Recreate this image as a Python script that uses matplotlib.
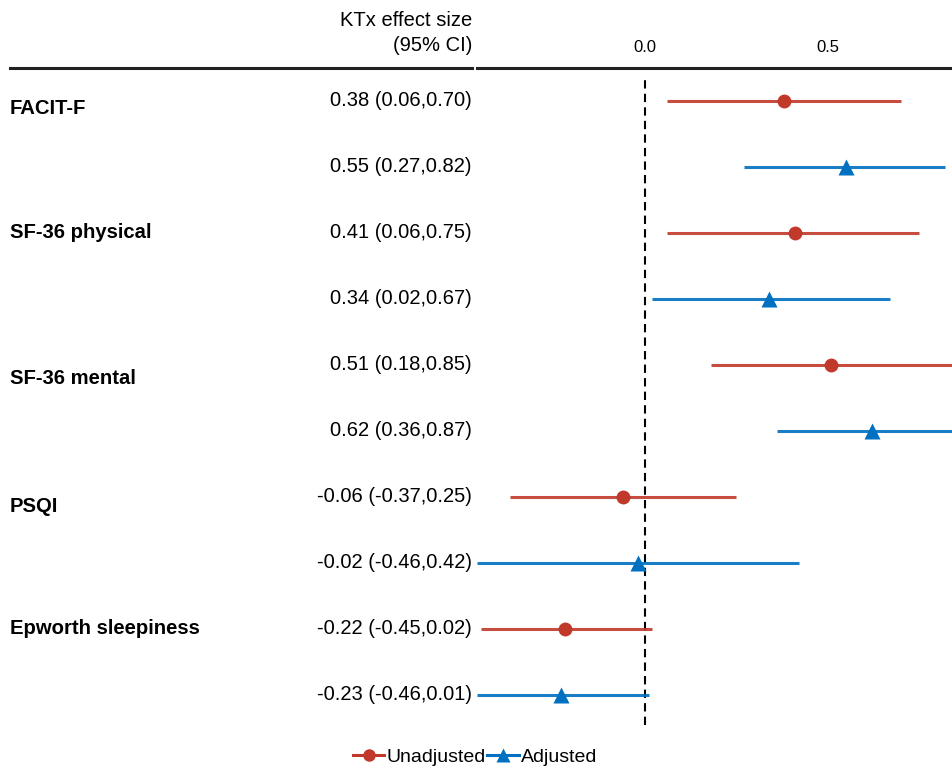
import matplotlib
matplotlib.use("Agg")
import matplotlib.pyplot as plt
from matplotlib.lines import Line2D
from matplotlib.transforms import blended_transform_factory

plt.rcParams["font.family"] = ["Liberation Sans", "DejaVu Sans"]

# data, top row first
groups = ["FACIT-F", "SF-36 physical", "SF-36 mental", "PSQI", "Epworth sleepiness"]
models = ["Unadjusted", "Adjusted"]
est = [0.38, 0.55, 0.41, 0.34, 0.51, 0.62, -0.06, -0.02, -0.22, -0.23]
lo = [0.06, 0.27, 0.06, 0.02, 0.18, 0.36, -0.37, -0.46, -0.45, -0.46]
hi = [0.70, 0.82, 0.75, 0.67, 0.85, 0.87, 0.25, 0.42, 0.02, 0.01]
xticks = [0.0, 0.5]

RED = "#C0392B"
BLUE = "#0070C0"
W, H = 952, 767

fig = plt.figure(figsize=(W / 100, H / 100), dpi=100)
ax = fig.add_axes([477 / W, 1 - 728 / H, (W - 477) / W, (728 - 68) / H])
ax.set_xlim(-0.46, 0.84)
ax.set_ylim(10.5, 0.5)

rows = list(range(1, len(est) + 1))
for i, y in enumerate(rows):
    unadj = i % 2 == 0
    col = RED if unadj else BLUE
    ax.plot([lo[i], hi[i]], [y, y], color=col, lw=2.2, alpha=0.9,
            solid_capstyle="butt", zorder=2)
    ax.plot(est[i], y, marker="o" if unadj else "^", color=col,
            ms=10 if unadj else 11, mec="none", zorder=3)

ax.axvline(0, ymin=0.005, ymax=0.99, color="black", lw=1.5,
           linestyle=(0, (4, 2.5)), zorder=1)

ax.xaxis.tick_top()
ax.set_xticks(xticks)
ax.set_xticklabels([f"{t:.1f}" for t in xticks], fontsize=12)
ax.tick_params(axis="x", length=0, pad=9)
ax.set_yticks([])
for s in ax.spines.values():
    s.set_visible(False)

# table text
tr = blended_transform_factory(fig.transFigure, ax.transData)
label_offset = [0.12, 0.0, 0.2, 0.15, 0.0]
for g, name in enumerate(groups):
    ax.text(10 / W, 2 * g + 1 + label_offset[g], name, transform=tr,
            fontsize=14.6, fontweight="bold", ha="left", va="center")
for i, y in enumerate(rows):
    ax.text(472 / W, y, f"{est[i]:.2f} ({lo[i]:.2f},{hi[i]:.2f})", transform=tr,
            fontsize=14.5, ha="right", va="center")

fig.text(472 / W, 1 - 33 / H, "KTx effect size\n(95% CI)", fontsize=14.5,
         ha="right", va="center", linespacing=1.45)

# header rule
yl = 1 - 68 / H
fig.add_artist(Line2D([10 / W, 472 / W], [yl, yl], color="#222222", lw=2.2,
                      transform=fig.transFigure))
fig.add_artist(Line2D([477 / W, 1.0], [yl, yl], color="#222222", lw=2.2,
                      transform=fig.transFigure))

handles = [Line2D([], [], color=RED, lw=2.2, marker="o", ms=9, mec="none"),
           Line2D([], [], color=BLUE, lw=2.2, marker="^", ms=10, mec="none")]
fig.legend(handles, models, loc="center", bbox_to_anchor=(475 / W, 1 - 757 / H),
           ncol=2, frameon=False, fontsize=14, handlelength=1.6,
           handletextpad=0.1, columnspacing=0.1, borderaxespad=0)

fig.savefig("out.png", dpi=100)
